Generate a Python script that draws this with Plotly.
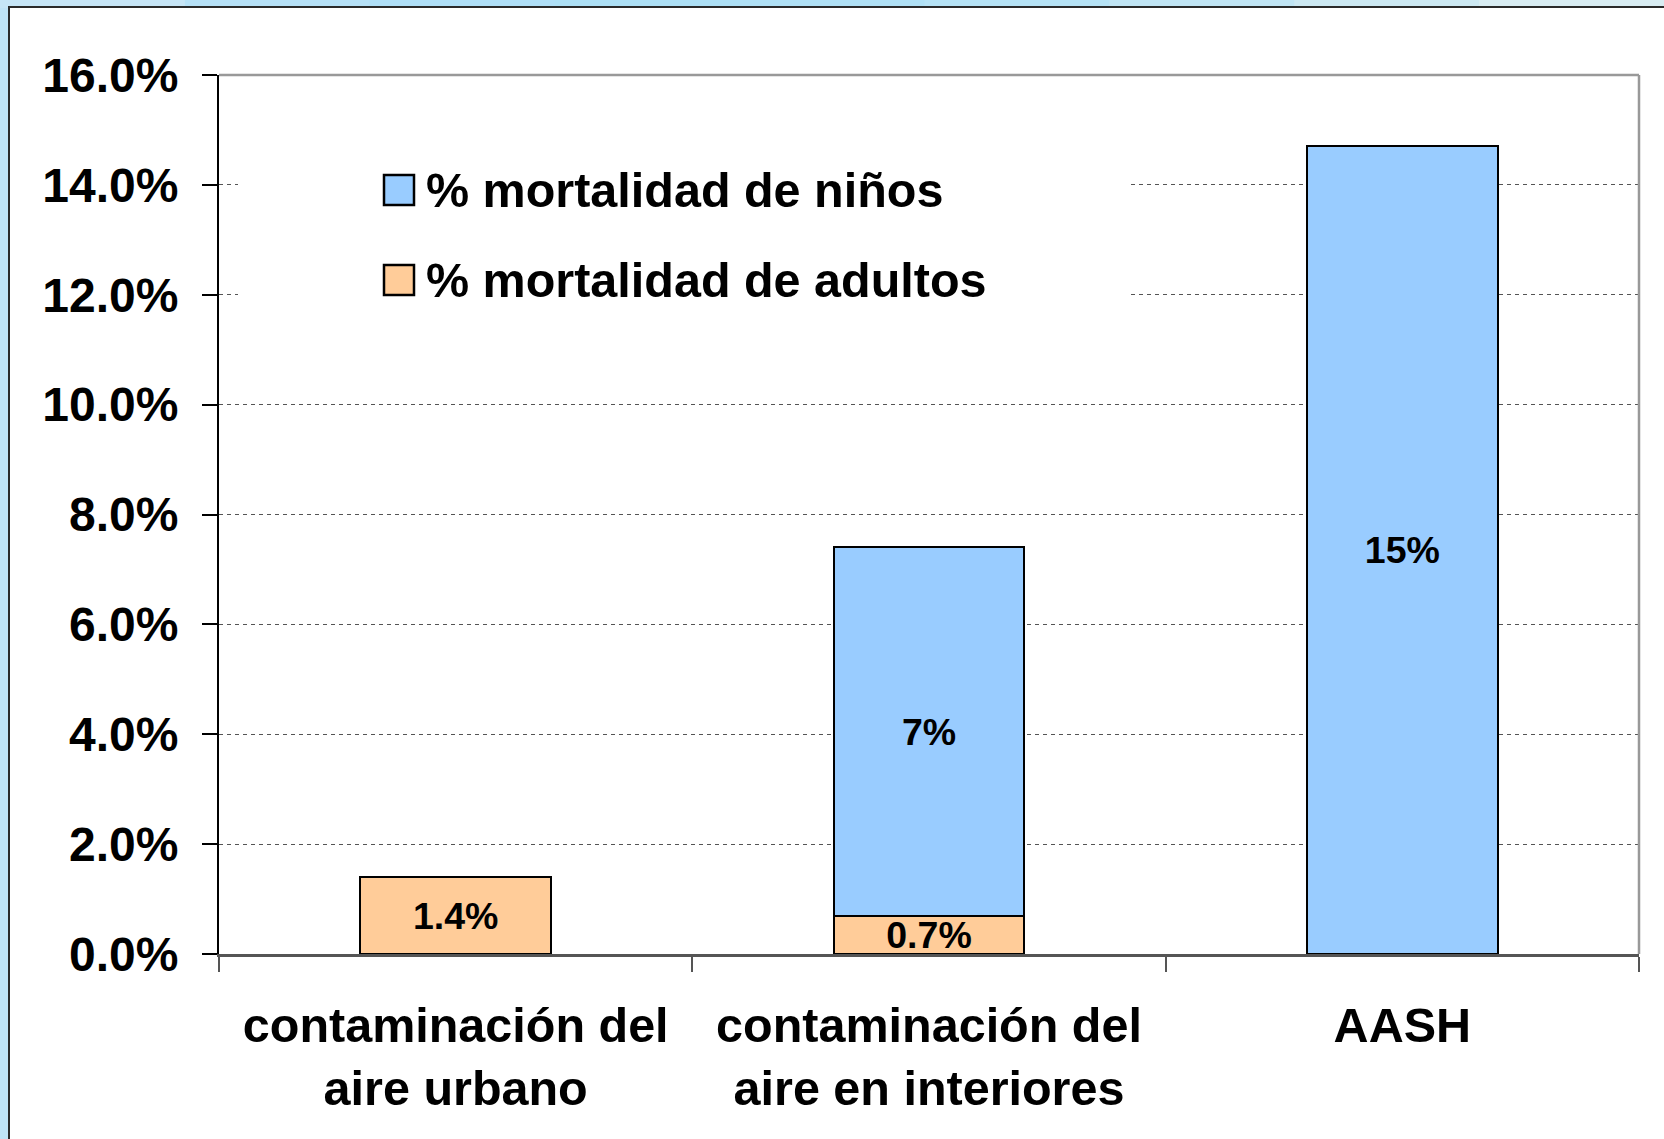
import plotly.graph_objects as go

# ---- data ----
categories = ["contaminación del<br>aire urbano",
              "contaminación del<br>aire en interiores",
              "AASH"]
adults = [1.4, 0.7, None]          # % mortalidad de adultos
children = [None, 6.7, 14.7]       # % mortalidad de niños
adults_text = ["1.4%", "0.7%", ""]
children_text = ["", "7%", "15%"]
series_names = ["% mortalidad de niños", "% mortalidad de adultos"]
y_ticks = [0, 2, 4, 6, 8, 10, 12, 14, 16]
y_ticklabels = [f"{v:.1f}%" for v in y_ticks]

# ---- style ----
FONT = "Liberation Sans, Arial, sans-serif"
BLUE = "#99CCFF"
ORANGE = "#FFCC99"
W_FIG, H_FIG = 1664, 1139
L, R, T, B = 219, 25, 75, 185
PW, PH = W_FIG - L - R, H_FIG - T - B


def px(x):
    return (x - L) / PW


def py(y):
    return (H_FIG - B - y) / PH


fig = go.Figure()
fig.add_trace(go.Bar(
    x=categories, y=adults, name=series_names[1],
    marker=dict(color=ORANGE, line=dict(color="black", width=2)),
    text=adults_text, textposition="inside", insidetextanchor="middle",
    textangle=0, constraintext="none",
    textfont=dict(family=FONT, size=37.5, color="black", weight="bold"),
    hoverinfo="skip", showlegend=False,
))
fig.add_trace(go.Bar(
    x=categories, y=children, name=series_names[0],
    marker=dict(color=BLUE, line=dict(color="black", width=2)),
    text=children_text, textposition="inside", insidetextanchor="middle",
    textangle=0, constraintext="none",
    textfont=dict(family=FONT, size=37.5, color="black", weight="bold"),
    hoverinfo="skip", showlegend=False,
))

shapes = []
# top gradient strip
stops = ["#c6e5f6", "#b6e1f7", "#afdff7", "#ade0f6", "#afe0f5", "#b5e2f5",
         "#c0e5f4", "#cce8f2", "#d8ecf2"]
n = len(stops)
for i, c in enumerate(stops):
    shapes.append(dict(type="rect", xref="paper", yref="paper", layer="below",
                       x0=px(i * W_FIG / n), x1=px((i + 1) * W_FIG / n + 1),
                       y0=py(-2), y1=py(8), fillcolor=c, line=dict(width=0)))
# white framed panel
shapes.append(dict(type="rect", xref="paper", yref="paper", layer="below",
                   x0=px(9), x1=px(1700), y0=py(7), y1=py(1200),
                   fillcolor="white", line=dict(color="#2a2a2a", width=2)))
# legend background (hides gridlines)
shapes.append(dict(type="rect", xref="paper", yref="paper", layer="above",
                   x0=px(238), x1=px(1130), y0=py(110), y1=py(345),
                   fillcolor="white", line=dict(width=0)))
# legend squares
for yc, col in [(190, BLUE), (280, ORANGE)]:
    shapes.append(dict(type="rect", xref="paper", yref="paper", layer="above",
                       x0=px(384), x1=px(414), y0=py(yc - 15), y1=py(yc + 15),
                       fillcolor=col, line=dict(color="black", width=2.5)))
# top and right border of plot area (gray)
shapes.append(dict(type="line", xref="paper", yref="paper", layer="above",
                   x0=0, x1=1, y0=1, y1=1, line=dict(color="#999999", width=2.5)))
shapes.append(dict(type="line", xref="paper", yref="paper", layer="above",
                   x0=1, x1=1, y0=0, y1=1, line=dict(color="#999999", width=2.5)))

annotations = []
for yc, name in [(190, series_names[0]), (280, series_names[1])]:
    annotations.append(dict(xref="paper", yref="paper", x=px(424), y=py(yc),
                            xanchor="left", yanchor="middle", showarrow=False,
                            text=name,
                            font=dict(family=FONT, size=48.5, color="black",
                                      weight="bold")))

fig.update_layout(
    width=W_FIG, height=H_FIG,
    margin=dict(l=L, r=R, t=T, b=B, pad=0),
    paper_bgcolor="#bfe3f6", plot_bgcolor="white",
    barmode="stack", bargap=0.597,
    shapes=shapes, annotations=annotations,
    showlegend=False,
    font=dict(family=FONT, color="black"),
)
fig.update_xaxes(
    type="category", tickson="boundaries", ticks="outside", ticklen=15,
    tickwidth=1.5, tickcolor="#555555",
    showline=True, linecolor="#555555", linewidth=2.5,
    showgrid=False,
    tickfont=dict(family=FONT, size=48.5, color="black", weight="bold"),
    ticklabelstandoff=27,
)
fig.update_yaxes(
    range=[0, 16], tickvals=y_ticks, ticktext=y_ticklabels,
    ticks="outside", ticklen=15, tickwidth=1.5, tickcolor="black",
    showline=True, linecolor="black", linewidth=2,
    showgrid=True, gridcolor="#555555", gridwidth=1, griddash="4px,4px",
    zeroline=False,
    tickfont=dict(family=FONT, size=48, color="black", weight="bold"),
    ticklabelstandoff=14,
)

fig.write_html(
    "out.html",
    config={"displayModeBar": False},
    post_script="document.body.style.margin='0';document.body.style.overflow='hidden';",
)
